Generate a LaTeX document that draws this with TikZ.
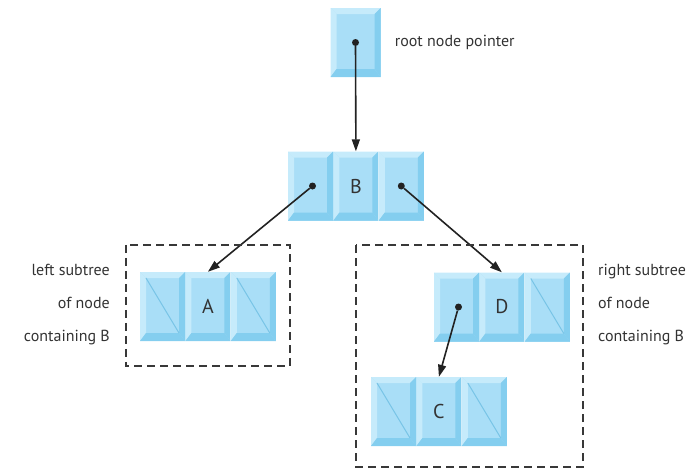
\documentclass[tikz,border=0pt]{standalone}
\usepackage{fontspec}
\setmainfont{PT Sans}
\usetikzlibrary{positioning,arrows.meta}

\definecolor{cellfill}{HTML}{A9DEF7}
\definecolor{celllight}{HTML}{C6EBFB}
\definecolor{celldark}{HTML}{84CEEF}
\definecolor{nullblue}{HTML}{78C4E6}
\definecolor{linegray}{HTML}{222222}
\definecolor{textgray}{HTML}{333333}

\newcommand{\labelfont}{\fontsize{16}{33}\selectfont}
\newcommand{\cellfont}{\fontsize{20}{22}\selectfont}
% bevelled edges of one list cell
\newcommand{\cellbevel}{%
  \fill[celllight] (path picture bounding box.north west) -- (path picture bounding box.north east)
    -- ([shift={(-6pt,-6pt)}]path picture bounding box.north east) -- ([shift={(6pt,-6pt)}]path picture bounding box.north west) -- cycle;
  \fill[celllight] (path picture bounding box.north west) -- (path picture bounding box.south west)
    -- ([shift={(6pt,8pt)}]path picture bounding box.south west) -- ([shift={(6pt,-6pt)}]path picture bounding box.north west) -- cycle;
  \fill[celldark] (path picture bounding box.south west) -- (path picture bounding box.south east)
    -- ([shift={(-6pt,8pt)}]path picture bounding box.south east) -- ([shift={(6pt,8pt)}]path picture bounding box.south west) -- cycle;
  \fill[celldark] (path picture bounding box.north east) -- (path picture bounding box.south east)
    -- ([shift={(-6pt,8pt)}]path picture bounding box.south east) -- ([shift={(-6pt,-6pt)}]path picture bounding box.north east) -- cycle;
}
% null pointer stroke
\newcommand{\cellnull}{%
  \draw[nullblue, line width=1pt] ([shift={(6pt,-6pt)}]path picture bounding box.north west) -- ([shift={(-6pt,8pt)}]path picture bounding box.south east);
}

\begin{document}
\begin{tikzpicture}[x=1pt, y=-1pt]
\tikzset{
    cell/.style={rectangle, inner sep=0pt, minimum width=45pt, minimum height=69pt, fill=cellfill, text=textgray, font=\cellfont, path picture={\cellbevel}},
    nullcell/.style={cell, path picture={\cellbevel\cellnull}},
    rootcell/.style={cell, minimum width=50pt},
    dot/.style={circle, fill=linegray, inner sep=0pt, minimum size=7pt},
    link/.style={-{Triangle[length=12pt, width=8pt]}, line width=1.6pt, draw=linegray},
    dashbox/.style={draw=linegray!90, line width=1.6pt, dash pattern=on 8pt off 5pt},
    note/.style={font=\labelfont, text=textgray, inner sep=0pt}
}
\useasboundingbox (0,0) rectangle (688,472);

\node[rootcell] (root) at (355.5,42.5) {};
\node[dot] (rootdot) at (root.center) {};
\node[note, right=14pt of root] (rootlabel) {root node pointer};

\node[cell] (bleft) at (310.5,186) {};
\node[cell, right=0pt of bleft] (bmid) {B};
\node[cell, right=0pt of bmid] (bright) {};
\node[dot] (bldot) at ([xshift=2pt]bleft.center) {};
\node[dot] (brdot) at (bright.center) {};

\node[nullcell] (aleft) at (162.5,306.5) {};
\node[cell, right=0pt of aleft] (amid) {A};
\node[nullcell, right=0pt of amid] (aright) {};

\node[cell] (dleft) at (456.5,307) {};
\node[cell, right=0pt of dleft] (dmid) {D};
\node[nullcell, right=0pt of dmid] (dright) {};
\node[dot] (dldot) at ([xshift=2pt]dleft.center) {};

\node[nullcell] (cleft) at (393.5,411.5) {};
\node[cell, right=0pt of cleft] (cmid) {C};
\node[nullcell, right=0pt of cmid] (cright) {};

\draw[link] (rootdot) -- (bmid.north);
\draw[link] (bldot) -- (amid.north);
\draw[link] (brdot) -- (dmid.north);
\draw[link] (dldot) -- (cmid.north);

% subtree frames
\draw[dashbox] ([shift={(-14pt,27pt)}]aleft.north west) rectangle ([shift={(14pt,-25pt)}]aright.south east);
\draw[dashbox] (356,245) rectangle (583,467);

\node[note, align=right, anchor=east] (leftlabel) at (110,305) {left subtree\\of node\\containing B};
\node[note, align=left, anchor=west] (rightlabel) at (598,305) {right subtree\\of node\\containing B};
\end{tikzpicture}
\end{document}
